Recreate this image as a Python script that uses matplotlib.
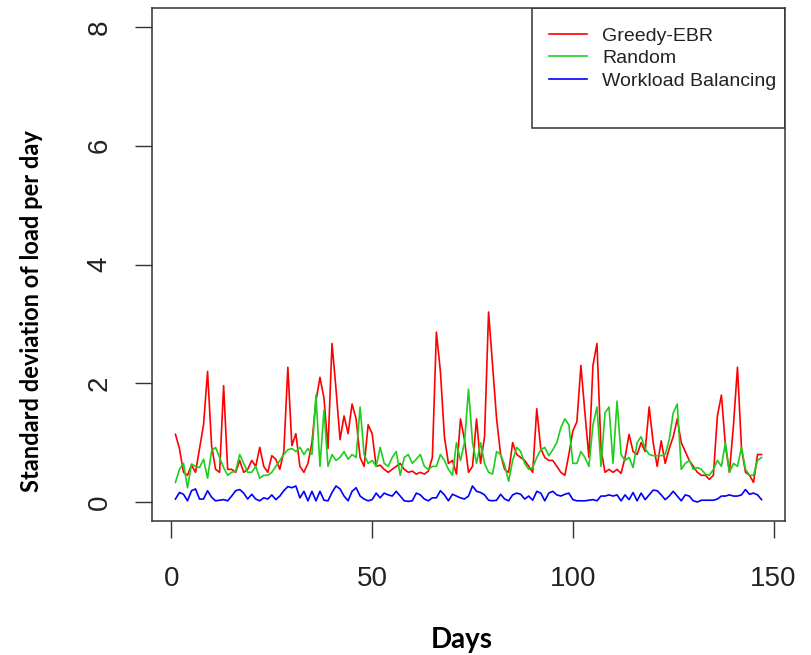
import matplotlib
matplotlib.use("Agg")
import matplotlib.pyplot as plt
from matplotlib.patches import Rectangle
import numpy as np

days = list(range(1, 148))

greedy_ebr = [
    1.14, 0.9, 0.5, 0.45, 0.62, 0.5, 0.9, 1.3, 2.2, 0.95,
    0.55, 0.5, 1.96, 0.55, 0.55, 0.5, 0.7, 0.5, 0.55, 0.7,
    0.6, 0.92, 0.6, 0.5, 0.78, 0.72, 0.55, 0.85, 2.27, 0.95,
    1.15, 0.6, 0.5, 0.65, 1.0, 1.7, 2.1, 1.75, 0.9, 2.67,
    1.9, 1.05, 1.45, 1.15, 1.65, 1.4, 0.75, 0.6, 1.3, 1.15,
    0.6, 0.62, 0.55, 0.5, 0.55, 0.6, 0.65, 0.55, 0.5, 0.52,
    0.47, 0.5, 0.47, 0.52, 0.75, 2.86, 2.2, 1.1, 0.65, 0.7,
    0.47, 1.4, 1.05, 0.5, 0.6, 1.4, 0.65, 1.1, 3.2, 2.3,
    1.4, 0.8, 0.55, 0.5, 1.0, 0.8, 0.75, 0.7, 0.6, 0.5,
    1.57, 0.9, 0.75, 0.7, 0.7, 0.6, 0.5, 0.45, 0.8, 1.2,
    1.35, 2.3, 1.5, 0.75, 2.3, 2.67, 0.9, 0.5, 0.55, 0.5,
    0.55, 0.48, 0.75, 1.14, 0.85, 0.8, 1.0, 0.85, 1.6, 1.0,
    0.6, 1.03, 0.65, 0.9, 1.1, 1.4, 1.0, 0.85, 0.7, 0.6,
    0.5, 0.45, 0.45, 0.38, 0.45, 1.45, 1.8, 0.95, 0.5, 1.29,
    2.27, 0.9, 0.5, 0.45, 0.33, 0.8, 0.8,
]

random_alloc = [
    0.33, 0.55, 0.65, 0.24, 0.64, 0.6, 0.58, 0.72, 0.4, 0.86,
    0.92, 0.75, 0.58, 0.45, 0.5, 0.52, 0.8, 0.65, 0.5, 0.5,
    0.6, 0.4, 0.45, 0.45, 0.5, 0.6, 0.7, 0.8, 0.88, 0.9,
    0.85, 0.92, 0.8, 0.9, 0.8, 1.8, 0.6, 1.55, 0.6, 0.8,
    0.7, 0.75, 0.85, 0.72, 0.8, 0.75, 1.6, 0.8, 0.65, 0.7,
    0.6, 0.92, 0.65, 0.6, 0.75, 0.85, 0.45, 0.75, 0.8, 0.65,
    0.72, 0.8, 0.6, 0.55, 0.6, 0.6, 0.8, 0.7, 0.55, 0.45,
    1.0, 0.7, 1.0, 1.9, 1.0, 0.65, 1.0, 0.65, 0.5, 0.47,
    0.85, 0.8, 0.62, 0.35, 0.7, 0.92, 0.85, 0.65, 0.55, 0.58,
    0.75, 0.88, 0.92, 0.78, 0.88, 1.0, 1.25, 1.4, 1.3, 0.65,
    0.65, 0.85, 0.75, 0.6, 1.3, 1.6, 0.6, 1.5, 1.6, 0.65,
    1.7, 0.8, 0.7, 0.75, 0.58, 1.0, 1.1, 0.9, 0.8, 0.78,
    0.78, 0.78, 0.8, 1.05, 1.5, 1.65, 0.55, 0.65, 0.7, 0.55,
    0.58, 0.55, 0.47, 0.45, 0.55, 0.7, 0.6, 1.0, 0.5, 0.65,
    0.6, 0.92, 0.55, 0.45, 0.45, 0.7, 0.75,
]

workload_balancing = [
    0.05, 0.16, 0.13, 0.02, 0.19, 0.22, 0.05, 0.05, 0.19, 0.08,
    0.02, 0.03, 0.04, 0.02, 0.1, 0.19, 0.21, 0.15, 0.05, 0.13,
    0.05, 0.02, 0.07, 0.05, 0.12, 0.04, 0.1, 0.19, 0.26, 0.24,
    0.27, 0.07, 0.18, 0.02, 0.18, 0.02, 0.18, 0.03, 0.02, 0.16,
    0.27, 0.22, 0.1, 0.02, 0.18, 0.24, 0.1, 0.05, 0.02, 0.04,
    0.15, 0.07, 0.15, 0.12, 0.1, 0.18, 0.1, 0.02, 0.01, 0.02,
    0.15, 0.12, 0.05, 0.02, 0.07, 0.07, 0.19, 0.12, 0.02, 0.13,
    0.1, 0.07, 0.05, 0.1, 0.27, 0.18, 0.16, 0.12, 0.03, 0.02,
    0.03, 0.13, 0.05, 0.02, 0.12, 0.15, 0.13, 0.05, 0.1, 0.03,
    0.18, 0.15, 0.02, 0.15, 0.18, 0.12, 0.1, 0.13, 0.15, 0.04,
    0.02, 0.02, 0.02, 0.03, 0.04, 0.02, 0.1, 0.1, 0.12, 0.1,
    0.12, 0.02, 0.12, 0.04, 0.16, 0.02, 0.15, 0.04, 0.12, 0.2,
    0.19, 0.12, 0.04, 0.1, 0.18, 0.1, 0.02, 0.12, 0.1, 0.02,
    0.0, 0.03, 0.03, 0.03, 0.03, 0.05, 0.1, 0.1, 0.12, 0.1,
    0.1, 0.12, 0.21, 0.13, 0.15, 0.12, 0.04,
]

series_names = ["Greedy-EBR", "Random", "Workload Balancing"]
series_colors = ["#FF0000", "#1ECD1E", "#0000FF"]
x_ticks = [0, 50, 100, 150]
y_ticks = [0, 2, 4, 6, 8]

fig = plt.figure(figsize=(8.11, 6.55), dpi=100)
ax = fig.add_axes([152 / 811, 1 - 521 / 655, 633 / 811, 513 / 655])

for vals, name, col in zip([greedy_ebr, random_alloc, workload_balancing],
                           series_names, series_colors):
    ax.plot(days, vals, color=col, lw=1.2, label=name)

ax.set_xlim(-4.84, 152.84)
ax.set_ylim(-0.32, 8.32)
ax.set_xticks(x_ticks)
ax.set_yticks(y_ticks)
ax.set_xticklabels([str(t) for t in x_ticks], family="Liberation Sans",
                   fontsize=20, color="#222222")
ax.set_yticklabels([str(t) for t in y_ticks], family="Liberation Sans",
                   fontsize=20, color="#222222", rotation=90, va="center")
ax.tick_params(axis="both", direction="out", length=12.5, width=1.0,
               color="#333333")
ax.tick_params(axis="x", pad=20)
ax.tick_params(axis="y", pad=16)
for sp in ax.spines.values():
    sp.set_linewidth(1.1)
    sp.set_color("#333333")

# legend frame (R style with extra empty space)
ax.add_patch(Rectangle((0.600, 0.767), 0.40, 0.233, transform=ax.transAxes,
                       fill=False, edgecolor="#333333", lw=1.1, zorder=5))
leg = ax.legend(loc="upper left", bbox_to_anchor=(0.627, 0.963),
                frameon=False, borderaxespad=0, borderpad=0,
                handlelength=1.95, handletextpad=0.8, labelspacing=0.25,
                prop={"family": "Liberation Sans", "size": 14})
for t in leg.get_texts():
    t.set_color("#222222")

fig.text(32 / 811, 1 - 311 / 655, "Standard deviation of load per day",
         rotation=90, ha="center", va="center", family="Lato",
         fontweight="bold", fontsize=17, color="black")
fig.text(462 / 811, 1 - 640 / 655, "Days", ha="center", va="center",
         family="Lato", fontweight="bold", fontsize=20, color="black")

fig.savefig("out.png", dpi=100)
